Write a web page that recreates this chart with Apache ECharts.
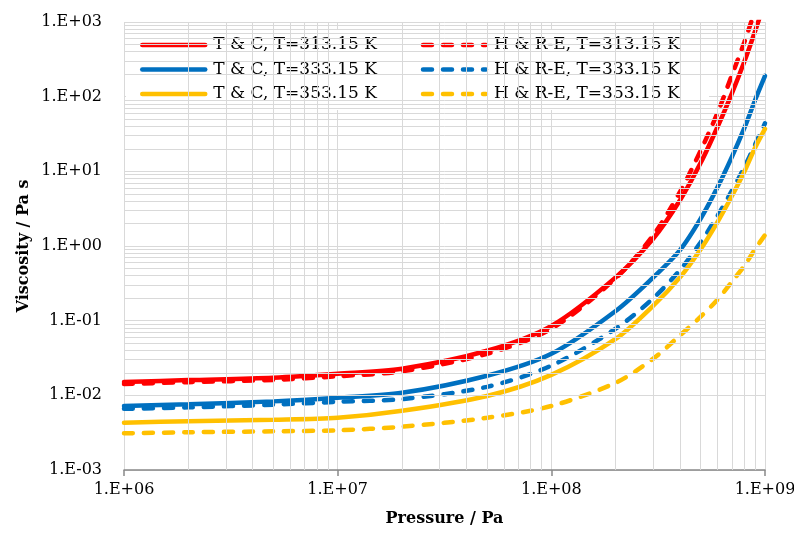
<!DOCTYPE html>
<html>
<head>
<meta charset="utf-8">
<script src="https://cdn.jsdelivr.net/npm/echarts@6/dist/echarts.min.js"></script>
<style>
  html, body { margin: 0; padding: 0; background: #fff; }
  #chart { width: 794px; height: 533px; }
</style>
</head>
<body>
<div id="chart"></div>
<script>
// pressure points (Pa)
const pressure = [1e6, 2e6, 5e6, 1e7, 2e7, 5e7, 1e8, 2e8, 3e8, 4e8, 5e8, 6e8, 7e8, 8e8, 9e8, 1e9]

// viscosity (Pa s)
const tc313 = [0.0151, 0.0160, 0.0172, 0.0194, 0.0227, 0.0395, 0.085, 0.38, 1.26, 4.1, 13, 39.6, 111, 293, 762, 1920]
const hr313 = [0.0142, 0.0150, 0.0161, 0.0180, 0.0210, 0.036, 0.078, 0.37, 1.40, 5.3, 19, 61, 194, 535, 1450, 3500]
const tc333 = [0.0072, 0.0076, 0.0083, 0.0093, 0.0108, 0.0183, 0.036, 0.135, 0.38, 0.88, 2.32, 6.15, 15.6, 37.8, 91, 190]
const hr333 = [0.0066, 0.0069, 0.0075, 0.0082, 0.0089, 0.0130, 0.025, 0.078, 0.20, 0.477, 1.12, 2.55, 5.5, 11.3, 23, 44]
const tc353 = [0.0043, 0.0045, 0.0047, 0.0050, 0.0062, 0.0098, 0.0188, 0.057, 0.159, 0.38, 0.905, 2.11, 4.68, 9.9, 20.9, 37]
const hr353 = [0.0031, 0.0032, 0.0033, 0.0034, 0.0038, 0.0050, 0.0072, 0.0147, 0.031, 0.0635, 0.113, 0.192, 0.333, 0.542, 0.914, 1.4]

const names = [
  'T & C, T=313.15 K', 'H & R-E, T=313.15 K',
  'T & C, T=333.15 K', 'H & R-E, T=333.15 K',
  'T & C, T=353.15 K', 'H & R-E, T=353.15 K'
]
const values = [tc313, hr313, tc333, hr333, tc353, hr353]
const colors = ['#ff0000', '#ff0000', '#0070c0', '#0070c0', '#ffc000', '#ffc000']

const serif = "'DejaVu Serif', 'Liberation Serif', serif"
const gridColor = '#d9d9d9'

const fmt = (v) => {
  let e = Math.round(Math.log10(v))
  return '1.E' + (e < 0 ? '-' : '+') + String(Math.abs(e)).padStart(2, '0')
}

// minor log grid lines (2..9 in every decade)
let minorX = []
for (let d = 1e6; d < 1e9; d *= 10) for (let k = 2; k <= 9; k++) minorX.push({ xAxis: k * d })
let minorY = []
for (let e = -3; e < 3; e++) for (let k = 2; k <= 9; k++) minorY.push({ yAxis: k * Math.pow(10, e) })

let chart = echarts.init(document.getElementById('chart'))

let series = names.map((n, i) => ({
  name: n,
  type: 'line',
  symbol: 'none',
  showSymbol: false,
  smooth: 0.3,
  z: 3,
  color: colors[i],
  lineStyle: {
    color: colors[i],
    width: 4.5,
    type: i % 2 === 1 ? [9, 11] : 'solid',
    cap: 'round'
  },
  data: pressure.map((p, j) => [p, values[i][j]])
}))

series.unshift({
  name: 'grid',
  type: 'line',
  data: [],
  z: 1,
  silent: true,
  markLine: {
    silent: true,
    symbol: 'none',
    label: { show: false },
    lineStyle: { color: gridColor, width: 1, type: 'solid' },
    emphasis: { disabled: true },
    animation: false,
    data: minorX.concat(minorY)
  }
})

let option = {
  animation: false,
  backgroundColor: '#fff',
  grid: { left: 124, right: 29, top: 22, bottom: 63, outerBoundsMode: 'none' },
  legend: {
    data: names,
    left: 126,
    top: 29,
    width: 570,
    orient: 'horizontal',
    backgroundColor: '#fff',
    padding: [6, 12, 6, 14],
    itemWidth: 63,
    itemHeight: 20,
    itemGap: 4.5,
    z: 5,
    itemStyle: { opacity: 0 },
    lineStyle: { width: 4.5, cap: 'round' },
    textStyle: {
      fontFamily: serif,
      fontSize: 17,
      color: '#000',
      width: 203,
      lineHeight: 20,
      padding: [0, 0, 0, 3]
    }
  },
  xAxis: {
    type: 'log',
    logBase: 10,
    min: 1e6,
    max: 1e9,
    name: 'Pressure / Pa',
    nameLocation: 'middle',
    nameGap: 41,
    nameMoveOverlap: false,
    nameTextStyle: { fontFamily: serif, fontSize: 16, fontWeight: 'bold', color: '#000' },
    axisLine: { show: true, lineStyle: { color: '#898989', width: 1.5 } },
    axisTick: { show: true, length: 6, lineStyle: { color: '#898989', width: 1.5 } },
    axisLabel: { fontFamily: serif, fontSize: 16, color: '#000', margin: 12, formatter: fmt },
    splitLine: { show: true, lineStyle: { color: gridColor, width: 1 } }
  },
  yAxis: {
    type: 'log',
    logBase: 10,
    min: 1e-3,
    max: 1e3,
    name: 'Viscosity / Pa s',
    nameLocation: 'middle',
    nameGap: 92,
    nameMoveOverlap: false,
    nameTextStyle: { fontFamily: serif, fontSize: 16, fontWeight: 'bold', color: '#000' },
    axisLine: { show: false },
    axisTick: { show: false },
    axisLabel: { fontFamily: serif, fontSize: 16, color: '#000', margin: 22, formatter: fmt },
    splitLine: { show: true, lineStyle: { color: gridColor, width: 1 } }
  },
  series: series
}

chart.setOption(option)
</script>
</body>
</html>
